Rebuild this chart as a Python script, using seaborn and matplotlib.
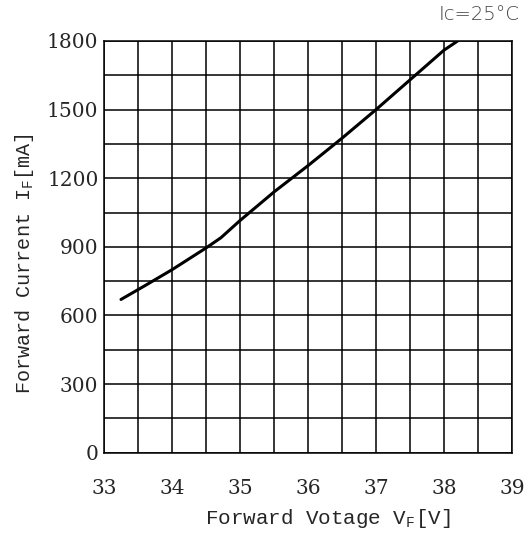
import matplotlib
matplotlib.use("Agg")
import matplotlib.pyplot as plt
import seaborn as sns
import pandas as pd
from matplotlib.ticker import MultipleLocator

voltage = [33.25, 33.6, 34.0, 34.5, 34.72, 35.0, 35.5, 36.0, 36.5, 37.0, 37.5, 38.0, 38.2]
current = [670, 730, 800, 895, 940, 1015, 1140, 1255, 1375, 1500, 1630, 1760, 1800]
x_ticks = [33, 34, 35, 36, 37, 38, 39]
y_ticks = [0, 300, 600, 900, 1200, 1500, 1800]

sns.set_style("white")
plt.rcParams['mathtext.fontset'] = 'custom'
plt.rcParams['mathtext.rm'] = 'Liberation Mono'

df = pd.DataFrame({"V": voltage, "I": current})

fig = plt.figure(figsize=(5.26, 5.35), dpi=100)
ax = fig.add_axes([104/526, 1 - 452.7/535, 408/526, 411.7/535])
sns.lineplot(data=df, x="V", y="I", ax=ax, color="black", linewidth=2.2, sort=False)

ax.set_xlim(33, 39)
ax.set_ylim(0, 1800)
ax.set_xticks(x_ticks)
ax.set_yticks(y_ticks)
ax.xaxis.set_minor_locator(MultipleLocator(0.5))
ax.yaxis.set_minor_locator(MultipleLocator(150))
ax.grid(True, which="both", color="black", linewidth=1.1)
ax.set_axisbelow(True)
for s in ax.spines.values():
    s.set_color("black")
    s.set_linewidth(1.1)
ax.tick_params(axis="both", which="both", length=0)
ax.tick_params(axis="x", pad=19)
ax.tick_params(axis="y", pad=4)
for lab in ax.get_xticklabels() + ax.get_yticklabels():
    lab.set_fontfamily("DejaVu Serif")
    lab.set_fontsize(14.5)

ax.set_xlabel(r"Forward Votage V$_{\mathrm{F}}$[V]", family="Liberation Mono", fontsize=15)
ax.set_ylabel(r"Forward Current I$_{\mathrm{F}}$[mA]", family="Liberation Mono", fontsize=14.5)
ax.xaxis.set_label_coords((328 - 104) / 408, (452.7 - 518) / 411.7)
ax.xaxis.label.set_va("center")
ax.yaxis.set_label_coords((25 - 104) / 408, (452.7 - 263.5) / 411.7)
ax.yaxis.label.set_va("center")

fig.text(520/526, 1 - 15/535, "Ic=25°C", ha="right", va="center", family="DejaVu Sans",
         fontsize=14, fontweight="light", color="#444444")

fig.savefig("out.png", dpi=100)
